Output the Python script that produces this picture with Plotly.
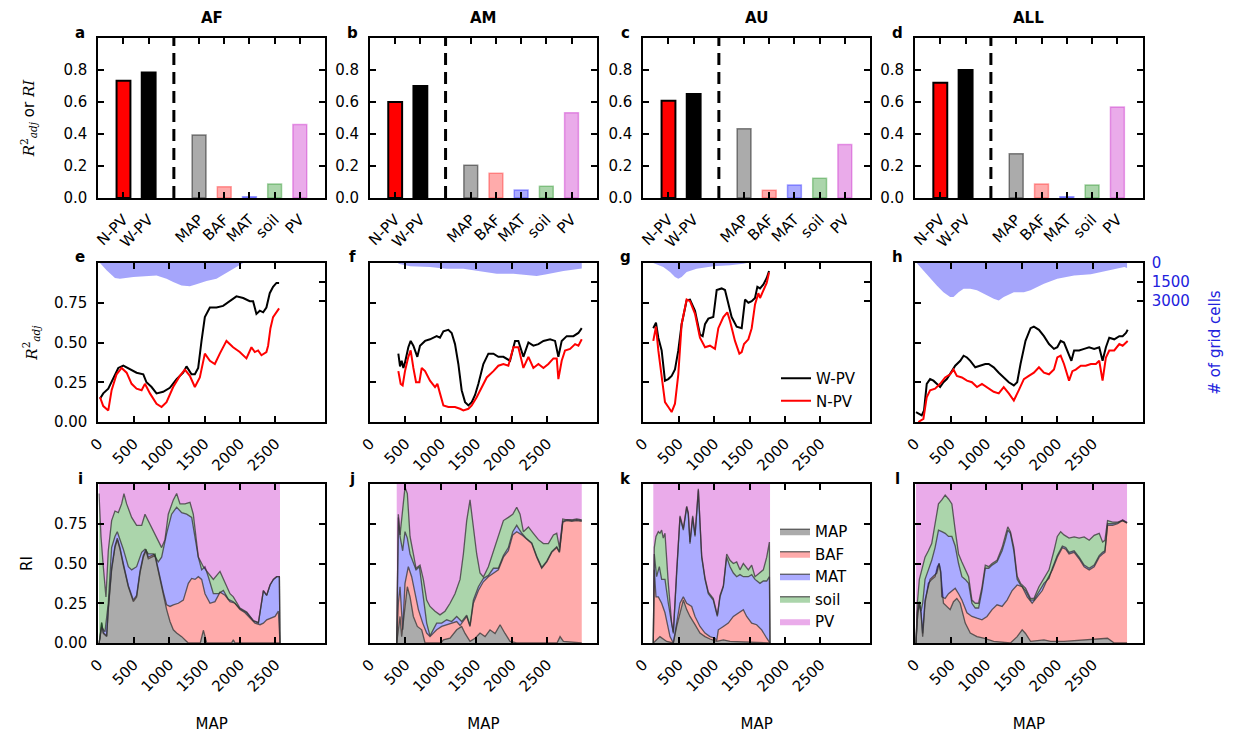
import plotly.graph_objects as go

W, H = 1233, 734
OX, OY = 8, 8          # page body margin of the html page
FONT = "DejaVu Sans"

# ---------------- data ----------------
regions = ["AF", "AM", "AU", "ALL"]
bar_pos = [1, 2, 4, 5, 6, 7, 8]
bar_ticks = ["N-PV", "W-PV", "MAP", "BAF", "MAT", "soil", "PV"]
npv_r2 = [0.733, 0.60, 0.608, 0.72]
wpv_r2 = [0.785, 0.70, 0.65, 0.80]
ri_map_bar = [0.394, 0.204, 0.433, 0.277]
ri_baf_bar = [0.071, 0.154, 0.048, 0.0875]
ri_mat_bar = [0.008, 0.05, 0.081, 0.008]
ri_soil_bar = [0.0875, 0.073, 0.123, 0.081]
ri_pv_bar = [0.46, 0.533, 0.335, 0.569]

map_ticks = [0, 500, 1000, 1500, 2000, 2500]
cell_ticks = [0, 1500, 3000]

# moving-window R2 (MAP, value)
wpv_af = [(24,0.146),(70,0.18),(141,0.21),(212,0.28),(282,0.34),(353,0.354),(447,0.33),(540,0.31),(635,0.30),(680,0.25),(752,0.22),(822,0.18),(916,0.19),(1010,0.215),(1105,0.27),(1198,0.31),(1245,0.35),(1316,0.30),(1363,0.30),(1410,0.34),(1457,0.51),(1504,0.66),(1575,0.72),(1668,0.72),(1762,0.73),(1856,0.76),(1950,0.79),(2045,0.78),(2138,0.76),(2185,0.76),(2232,0.68),(2280,0.70),(2327,0.69),(2373,0.72),(2420,0.81),(2467,0.85),(2515,0.875),(2552,0.875)]
npv_af = [(24,0.156),(70,0.10),(141,0.073),(188,0.20),(258,0.30),(329,0.34),(400,0.31),(470,0.24),(540,0.21),(611,0.20),(658,0.24),(729,0.18),(822,0.115),(893,0.094),(963,0.125),(1057,0.22),(1151,0.29),(1222,0.33),(1292,0.29),(1363,0.22),(1433,0.28),(1504,0.43),(1575,0.385),(1645,0.365),(1715,0.43),(1809,0.51),(1903,0.47),(1997,0.44),(2091,0.40),(2162,0.47),(2209,0.44),(2256,0.45),(2303,0.42),(2373,0.44),(2397,0.48),(2430,0.59),(2467,0.66),(2515,0.69),(2552,0.715)]
wpv_am = [(400,0.43),(424,0.35),(447,0.385),(471,0.34),(494,0.375),(541,0.47),(574,0.51),(612,0.48),(668,0.41),(706,0.48),(777,0.51),(847,0.52),(941,0.54),(988,0.53),(1036,0.57),(1106,0.58),(1153,0.56),(1200,0.49),(1247,0.365),(1294,0.20),(1342,0.125),(1389,0.104),(1436,0.125),(1483,0.17),(1530,0.24),(1600,0.365),(1671,0.43),(1742,0.43),(1812,0.41),(1883,0.41),(1977,0.385),(2047,0.51),(2094,0.51),(2165,0.41),(2236,0.50),(2306,0.48),(2377,0.49),(2448,0.51),(2542,0.52),(2612,0.51),(2659,0.41),(2706,0.51),(2777,0.54),(2871,0.54),(2942,0.56),(2989,0.59)]
npv_am = [(400,0.32),(433,0.24),(461,0.23),(494,0.32),(541,0.41),(574,0.45),(612,0.34),(650,0.25),(697,0.25),(730,0.34),(777,0.32),(847,0.26),(918,0.22),(951,0.24),(988,0.18),(1036,0.104),(1106,0.094),(1200,0.094),(1271,0.083),(1318,0.073),(1389,0.083),(1436,0.104),(1506,0.156),(1577,0.22),(1648,0.28),(1742,0.32),(1812,0.354),(1883,0.365),(1953,0.354),(2024,0.47),(2094,0.47),(2165,0.34),(2236,0.41),(2306,0.34),(2377,0.365),(2448,0.34),(2518,0.365),(2589,0.40),(2636,0.40),(2659,0.27),(2706,0.385),(2753,0.45),(2824,0.46),(2895,0.49),(2942,0.48),(2989,0.52)]
wpv_au = [(141,0.59),(179,0.625),(212,0.53),(259,0.45),(306,0.26),(353,0.27),(400,0.29),(447,0.33),(494,0.45),(541,0.615),(612,0.765),(659,0.77),(730,0.70),(800,0.55),(838,0.54),(871,0.615),(918,0.65),(988,0.66),(1036,0.83),(1106,0.84),(1153,0.83),(1200,0.74),(1247,0.66),(1318,0.60),(1389,0.59),(1436,0.77),(1483,0.75),(1530,0.76),(1577,0.78),(1610,0.85),(1648,0.84),(1695,0.865),(1742,0.906),(1775,0.95)]
npv_au = [(141,0.51),(179,0.60),(212,0.45),(259,0.28),(306,0.125),(353,0.094),(400,0.0625),(447,0.115),(494,0.30),(541,0.615),(612,0.77),(659,0.76),(730,0.68),(800,0.53),(871,0.47),(941,0.48),(1012,0.46),(1059,0.59),(1130,0.66),(1186,0.69),(1224,0.635),(1294,0.51),(1356,0.43),(1389,0.44),(1422,0.49),(1483,0.52),(1530,0.59),(1577,0.74),(1624,0.81),(1648,0.78),(1695,0.83),(1742,0.875),(1775,0.94)]
wpv_all = [(14,0.0625),(47,0.052),(94,0.042),(127,0.073),(165,0.24),(212,0.27),(259,0.26),(306,0.24),(353,0.22),(400,0.25),(447,0.27),(518,0.32),(565,0.354),(636,0.385),(683,0.417),(730,0.406),(777,0.385),(847,0.344),(918,0.354),(988,0.365),(1036,0.365),(1106,0.344),(1177,0.31),(1247,0.28),(1318,0.25),(1389,0.23),(1436,0.25),(1483,0.365),(1553,0.51),(1624,0.59),(1671,0.60),(1742,0.58),(1812,0.54),(1883,0.49),(1953,0.46),(2000,0.47),(2047,0.51),(2094,0.50),(2141,0.45),(2198,0.385),(2236,0.45),(2306,0.45),(2377,0.46),(2447,0.47),(2518,0.46),(2589,0.47),(2636,0.385),(2683,0.47),(2730,0.53),(2800,0.52),(2871,0.54),(2918,0.54),(2965,0.56),(2989,0.58)]
npv_all = [(47,0.0),(118,0.02),(165,0.156),(212,0.20),(282,0.21),(353,0.24),(424,0.28),(494,0.30),(541,0.33),(588,0.29),(659,0.28),(730,0.26),(800,0.25),(871,0.22),(941,0.24),(1012,0.22),(1106,0.19),(1177,0.18),(1247,0.22),(1318,0.18),(1389,0.135),(1459,0.20),(1530,0.27),(1600,0.29),(1671,0.31),(1742,0.344),(1812,0.31),(1883,0.30),(1953,0.33),(2000,0.406),(2047,0.417),(2094,0.365),(2165,0.26),(2212,0.32),(2259,0.33),(2330,0.354),(2400,0.354),(2471,0.365),(2542,0.365),(2589,0.385),(2636,0.26),(2683,0.406),(2730,0.45),(2800,0.45),(2871,0.49),(2918,0.48),(2965,0.50),(2989,0.51)]

# number of grid cells per window (MAP, count)
cells_af = [(24,0),(117,570),(235,1180),(305,1230),(494,1100),(680,1045),(822,975),(963,1230),(1057,1500),(1175,1760),(1292,1835),(1386,1680),(1527,1415),(1668,1230),(1786,840),(1903,445),(2000,100),(2045,0),(2552,0)]
cells_am = [(400,50),(518,180),(565,250),(847,320),(1083,445),(1318,445),(1553,630),(1789,840),(2024,840),(2259,975),(2353,1025),(2494,890),(2730,630),(2965,445),(2989,440)]
cells_au = [(141,0),(282,320),(377,710),(447,1100),(494,1230),(541,1100),(612,710),(753,445),(988,260),(1224,185),(1412,50),(1459,0),(1775,0)]
cells_all = [(24,0),(118,575),(212,1230),(306,1760),(400,2290),(494,2680),(541,2680),(612,2290),(683,2020),(777,2020),(871,2150),(965,2415),(1106,2810),(1177,2940),(1247,2680),(1389,2290),(1530,2290),(1624,2150),(1812,1630),(2000,1230),(2236,975),(2471,890),(2612,710),(2800,445),(2942,320),(2980,400)]

# relative importance, cumulative upper boundary of each stacked layer (MAP, RI)
ri_af_map = [(10,0),(24,0.03),(47,0.125),(71,0.06),(118,0.04),(141,0.21),(188,0.46),(235,0.60),(268,0.65),(306,0.59),(353,0.49),(424,0.354),(494,0.26),(541,0.29),(588,0.44),(635,0.54),(673,0.58),(706,0.53),(753,0.54),(800,0.55),(833,0.48),(871,0.40),(918,0.31),(965,0.21),(1012,0.135),(1059,0.083),(1106,0.0625),(1177,0.04),(1247,0.01),(1271,0),(1440,0),(1483,0.08),(1530,0.0),(1880,0),(1906,0.02),(1930,0),(2565,0)]
ri_af_baf = [(10,0.0),(24,0.035),(47,0.13),(71,0.065),(118,0.045),(141,0.22),(188,0.47),(235,0.61),(268,0.66),(306,0.60),(353,0.50),(424,0.36),(494,0.27),(541,0.30),(588,0.45),(635,0.55),(673,0.59),(706,0.54),(753,0.55),(800,0.56),(833,0.49),(871,0.41),(918,0.32),(965,0.24),(1012,0.23),(1059,0.24),(1130,0.25),(1200,0.27),(1271,0.375),(1318,0.406),(1365,0.40),(1412,0.417),(1459,0.40),(1506,0.31),(1577,0.25),(1647,0.26),(1718,0.32),(1789,0.30),(1859,0.26),(1930,0.25),(2000,0.21),(2071,0.19),(2142,0.156),(2212,0.125),(2283,0.115),(2330,0.125),(2377,0.146),(2448,0.156),(2495,0.167),(2542,0.20),(2565,0)]
ri_af_mat = [(10,0.0),(24,0.04),(47,0.10),(94,0.07),(141,0.25),(188,0.60),(235,0.67),(268,0.70),(306,0.65),(353,0.59),(424,0.48),(471,0.46),(541,0.48),(612,0.57),(659,0.59),(706,0.56),(777,0.56),(847,0.51),(894,0.54),(965,0.69),(1035,0.81),(1106,0.854),(1177,0.82),(1247,0.81),(1318,0.79),(1365,0.65),(1412,0.54),(1459,0.46),(1506,0.48),(1553,0.417),(1624,0.31),(1694,0.31),(1765,0.33),(1836,0.275),(1906,0.26),(2000,0.215),(2095,0.19),(2189,0.14),(2260,0.125),(2330,0.33),(2377,0.30),(2424,0.365),(2471,0.40),(2518,0.417),(2556,0.417),(2565,0)]
ri_af_soil = [(10,0.94),(38,0.67),(71,0.48),(108,0.29),(141,0.58),(188,0.77),(235,0.83),(282,0.82),(329,0.875),(362,0.94),(400,0.875),(471,0.79),(541,0.74),(612,0.74),(659,0.81),(706,0.77),(777,0.70),(847,0.65),(894,0.60),(941,0.65),(988,0.81),(1059,0.90),(1106,0.94),(1153,0.875),(1224,0.875),(1294,0.885),(1341,0.81),(1412,0.54),(1483,0.48),(1553,0.44),(1624,0.40),(1718,0.45),(1789,0.375),(1859,0.31),(1906,0.29),(2000,0.22),(2095,0.195),(2189,0.14),(2260,0.13),(2330,0.33),(2377,0.30),(2424,0.365),(2471,0.40),(2518,0.417),(2556,0.417),(2565,0)]

ri_am_map = [(377,0),(424,0.167),(447,0.04),(494,0.21),(527,0.354),(565,0.29),(612,0.167),(668,0.104),(730,0.083),(777,0),(1000,0),(1036,0.02),(1130,0.03),(1224,0.083),(1294,0.104),(1342,0.06),(1412,0.01),(1483,0.03),(1553,0.0625),(1624,0.04),(1694,0.083),(1765,0.06),(1836,0.115),(1906,0.06),(1977,0.01),(2071,0),(2640,0),(2683,0.04),(2730,0.01),(2989,0)]
ri_am_baf = [(377,0),(400,0.25),(424,0.354),(461,0.083),(494,0.375),(541,0.48),(588,0.417),(635,0.31),(683,0.21),(744,0.125),(800,0.0625),(847,0.04),(941,0.083),(1012,0.104),(1083,0.115),(1153,0.125),(1224,0.135),(1271,0.11),(1318,0.135),(1365,0.167),(1412,0.104),(1459,0.25),(1530,0.33),(1600,0.385),(1671,0.417),(1742,0.44),(1812,0.46),(1883,0.54),(1953,0.58),(2015,0.68),(2071,0.70),(2142,0.68),(2212,0.65),(2283,0.625),(2353,0.54),(2424,0.47),(2495,0.51),(2565,0.57),(2636,0.60),(2674,0.57),(2721,0.76),(2777,0.77),(2848,0.765),(2918,0.77),(2989,0.765)]
ri_am_mat = [(377,0),(400,0.79),(424,0.67),(461,0.58),(494,0.70),(527,0.66),(565,0.56),(612,0.50),(650,0.46),(697,0.48),(753,0.27),(800,0.125),(847,0.045),(894,0.083),(941,0.125),(1012,0.125),(1083,0.146),(1153,0.135),(1224,0.167),(1294,0.135),(1365,0.175),(1412,0.11),(1459,0.27),(1530,0.354),(1600,0.406),(1671,0.425),(1742,0.47),(1812,0.47),(1883,0.55),(1953,0.60),(2015,0.70),(2071,0.74),(2142,0.69),(2212,0.655),(2283,0.63),(2353,0.545),(2424,0.475),(2495,0.515),(2565,0.575),(2636,0.605),(2674,0.575),(2721,0.765),(2777,0.775),(2848,0.77),(2918,0.775),(2989,0.77)]
ri_am_soil = [(377,0),(400,0.81),(424,0.68),(461,0.83),(494,0.98),(527,0.94),(565,0.67),(612,0.56),(650,0.47),(706,0.49),(753,0.40),(800,0.27),(847,0.23),(918,0.20),(988,0.177),(1059,0.20),(1130,0.25),(1200,0.31),(1271,0.40),(1318,0.56),(1365,0.77),(1412,0.90),(1450,0.77),(1506,0.56),(1553,0.44),(1600,0.415),(1671,0.48),(1742,0.58),(1812,0.67),(1883,0.77),(1953,0.79),(2015,0.81),(2071,0.854),(2118,0.81),(2165,0.70),(2236,0.73),(2306,0.69),(2377,0.65),(2448,0.625),(2518,0.625),(2589,0.68),(2636,0.69),(2674,0.60),(2721,0.78),(2777,0.775),(2848,0.775),(2918,0.78),(2989,0.775)]

ri_au_map = [(141,0),(188,0.02),(235,0.04),(330,0.01),(424,0),(471,0.104),(518,0.19),(565,0.27),(612,0.21),(659,0.167),(730,0.115),(800,0.0625),(871,0.04),(941,0.025),(1036,0.01),(1130,0.02),(1224,0.01),(1459,0.005),(1647,0),(1789,0)]
ri_au_baf = [(141,0),(155,0.46),(179,0.29),(212,0.29),(259,0.25),(306,0.19),(377,0.04),(424,0.0),(471,0.125),(518,0.25),(565,0.29),(612,0.25),(683,0.23),(730,0.167),(800,0.104),(871,0.0625),(941,0.04),(1012,0.03),(1036,0.015),(1059,0.083),(1130,0.104),(1200,0.125),(1271,0.167),(1341,0.19),(1412,0.21),(1459,0.167),(1530,0.125),(1600,0.115),(1671,0.083),(1742,0.03),(1789,0)]
ri_au_mat = [(141,0),(155,0.56),(188,0.417),(226,0.48),(259,0.40),(306,0.40),(353,0.25),(400,0.104),(424,0.06),(471,0.46),(518,0.79),(565,0.71),(612,0.854),(635,0.81),(659,0.625),(697,0.79),(730,0.67),(777,0.96),(824,0.54),(871,0.40),(918,0.31),(988,0.27),(1045,0.167),(1083,0.29),(1130,0.354),(1177,0.54),(1224,0.48),(1271,0.44),(1318,0.417),(1365,0.43),(1412,0.417),(1483,0.417),(1530,0.43),(1577,0.40),(1647,0.375),(1694,0.39),(1742,0.39),(1780,0.417),(1789,0)]
ri_au_soil = [(141,0),(155,0.60),(179,0.67),(212,0.70),(235,0.69),(259,0.71),(282,0.66),(306,0.69),(353,0.375),(400,0.125),(424,0.07),(471,0.47),(518,0.80),(565,0.72),(612,0.86),(635,0.82),(659,0.635),(697,0.80),(730,0.68),(777,0.97),(824,0.55),(871,0.41),(918,0.32),(988,0.28),(1045,0.175),(1083,0.30),(1130,0.36),(1177,0.56),(1224,0.52),(1271,0.50),(1318,0.51),(1365,0.46),(1412,0.50),(1483,0.46),(1530,0.49),(1577,0.417),(1647,0.44),(1694,0.46),(1742,0.54),(1780,0.635),(1789,0)]

ri_all_map = [(14,0),(33,0.146),(61,0.25),(85,0.19),(108,0.04),(141,0.25),(188,0.375),(235,0.40),(282,0.417),(315,0.48),(339,0.50),(362,0.44),(400,0.25),(447,0.23),(494,0.21),(541,0.26),(588,0.28),(635,0.25),(706,0.125),(777,0.0625),(871,0.04),(965,0.03),(1106,0.01),(1341,0),(1436,0.04),(1506,0.083),(1553,0.06),(1624,0.01),(1812,0.02),(1906,0.01),(2094,0.01),(2706,0.03),(2800,0),(2980,0)]
ri_all_baf = [(14,0),(33,0.19),(61,0.25),(85,0.19),(108,0.06),(141,0.27),(212,0.40),(306,0.44),(339,0.50),(362,0.45),(377,0.29),(424,0.28),(471,0.31),(518,0.33),(565,0.344),(612,0.31),(659,0.27),(730,0.19),(800,0.167),(871,0.156),(941,0.146),(1012,0.167),(1083,0.21),(1153,0.24),(1224,0.23),(1294,0.27),(1365,0.33),(1436,0.365),(1506,0.354),(1577,0.29),(1647,0.25),(1718,0.29),(1789,0.33),(1859,0.40),(1930,0.46),(2000,0.54),(2071,0.60),(2118,0.59),(2165,0.56),(2236,0.57),(2306,0.53),(2377,0.48),(2448,0.46),(2518,0.48),(2589,0.54),(2636,0.56),(2669,0.57),(2706,0.74),(2777,0.74),(2848,0.75),(2918,0.77),(2980,0.754)]
ri_all_mat = [(14,0),(33,0.20),(61,0.26),(85,0.20),(108,0.25),(141,0.40),(188,0.46),(235,0.52),(282,0.60),(330,0.71),(377,0.70),(424,0.69),(471,0.67),(518,0.67),(565,0.61),(612,0.50),(659,0.417),(706,0.40),(753,0.375),(800,0.25),(847,0.22),(894,0.22),(941,0.33),(988,0.47),(1036,0.47),(1083,0.49),(1153,0.51),(1224,0.58),(1271,0.65),(1304,0.71),(1341,0.69),(1389,0.58),(1436,0.40),(1483,0.365),(1553,0.33),(1624,0.27),(1671,0.27),(1742,0.32),(1812,0.375),(1883,0.406),(1930,0.47),(2000,0.55),(2071,0.61),(2118,0.60),(2165,0.57),(2236,0.58),(2306,0.54),(2377,0.49),(2448,0.47),(2518,0.49),(2589,0.55),(2636,0.57),(2669,0.58),(2706,0.75),(2777,0.75),(2848,0.755),(2918,0.775),(2980,0.757)]
ri_all_soil = [(14,0),(33,0.25),(61,0.40),(94,0.46),(141,0.54),(188,0.58),(235,0.625),(282,0.75),(330,0.875),(377,0.90),(424,0.93),(471,0.906),(518,0.875),(565,0.71),(612,0.56),(659,0.51),(706,0.46),(753,0.417),(800,0.27),(847,0.25),(894,0.25),(941,0.35),(988,0.49),(1036,0.48),(1083,0.50),(1153,0.52),(1224,0.60),(1271,0.67),(1304,0.73),(1341,0.70),(1389,0.60),(1436,0.42),(1483,0.375),(1553,0.345),(1624,0.28),(1671,0.28),(1742,0.354),(1812,0.406),(1883,0.46),(1953,0.58),(2000,0.67),(2047,0.70),(2094,0.68),(2165,0.66),(2236,0.667),(2306,0.66),(2377,0.667),(2448,0.646),(2518,0.677),(2589,0.69),(2636,0.635),(2669,0.646),(2706,0.77),(2777,0.76),(2848,0.76),(2918,0.77),(2980,0.757)]

wpv_series = [wpv_af, wpv_am, wpv_au, wpv_all]
npv_series = [npv_af, npv_am, npv_au, npv_all]
cells_series = [cells_af, cells_am, cells_au, cells_all]
ri_layers = [
    [ri_af_map, ri_af_baf, ri_af_mat, ri_af_soil],
    [ri_am_map, ri_am_baf, ri_am_mat, ri_am_soil],
    [ri_au_map, ri_au_baf, ri_au_mat, ri_au_soil],
    [ri_all_map, ri_all_baf, ri_all_mat, ri_all_soil],
]
layer_names = ["MAP", "BAF", "MAT", "soil", "PV"]

# ---------------- style ----------------
layer_fill = ["rgba(0,0,0,0.33)", "rgba(255,0,0,0.33)", "rgba(0,0,255,0.33)",
              "rgba(0,128,0,0.33)", "rgba(191,0,191,0.33)"]
layer_edge = ["rgba(0,0,0,0.45)", "rgba(255,0,0,0.35)", "rgba(0,0,255,0.35)",
              "rgba(0,128,0,0.35)", "rgba(191,0,191,0.35)"]
stack_line = "rgba(50,50,50,0.75)"

# panel boxes in screen pixels of the reference
col_px = [(98.3, 325.0), (370.0, 596.7), (643.3, 870.0), (915.0, 1142.7)]
row_px = [(38, 198), (263, 422), (484, 643)]


def px(X):
    return (X - OX) / W


def py(Y):
    return 1 - (Y - OY) / H


def xd(c):
    return [px(col_px[c][0]), px(col_px[c][1])]


def yd(r):
    return [py(row_px[r][1]), py(row_px[r][0])]


def ax_name(i, kind):
    return kind + ("axis" if i == 1 else "axis%d" % i)


def ref(i, kind):
    return kind + ("" if i == 1 else str(i))


tickfont = dict(family=FONT, size=15, color="black")
base_axis = dict(showline=True, linewidth=2, linecolor="black", ticks="inside",
                 ticklen=6, tickwidth=1.5, tickcolor="black", showgrid=False,
                 zeroline=False, tickfont=tickfont, automargin=False)

fig = go.Figure()
layout = {}
ytitle_standoff = [25, 13, 18]

for r in range(3):
    for c in range(4):
        i = r * 4 + c + 1
        xa = dict(base_axis, domain=xd(c), anchor=ref(i, "y"), mirror="ticks", ticklabelstandoff=5)
        ya = dict(base_axis, domain=yd(r), anchor=ref(i, "x"), ticklabelstandoff=6)
        if r == 0:
            xa.update(range=[0, 9], tickvals=bar_pos, ticktext=bar_ticks, tickangle=-45,
                      minor=dict(tickvals=[3], ticks="inside", ticklen=6, tickwidth=1.5,
                                 tickcolor="black", showgrid=False))
            ya.update(range=[0, 1], tickvals=[0, 0.2, 0.4, 0.6, 0.8], tickformat=".1f", mirror="ticks")
        else:
            xa.update(range=[0, 3200], tickvals=map_ticks, tickangle=-45)
            ya.update(range=[0, 1], tickvals=[0, 0.25, 0.5, 0.75], tickformat=".2f",
                      showticklabels=(c == 0), mirror=(True if r == 1 else "ticks"))
        if r == 2:
            xa["title"] = dict(text="MAP", font=dict(family=FONT, size=15, color="black"), standoff=24)
        if c == 0:
            if r == 0:
                t = ('<span style="font-family:DejaVu Serif"><i>R</i><sup>2</sup><sub><i>adj</i></sub></span>'
                     ' or <span style="font-family:DejaVu Serif"><i>RI</i></span>')
            elif r == 1:
                t = '<span style="font-family:DejaVu Serif"><i>R</i><sup>2</sup><sub><i>adj</i></sub></span>'
            else:
                t = "RI"
            ya["title"] = dict(text=t, font=dict(family=FONT, size=15, color="black"),
                               standoff=ytitle_standoff[r])
        layout[ax_name(i, "x")] = xa
        layout[ax_name(i, "y")] = ya

# secondary axes (grid cell counts) for the middle row
for c in range(4):
    i = 13 + c
    ya = dict(base_axis, domain=yd(1), anchor=ref(5 + c, "x"), overlaying=ref(5 + c, "y"),
              side="right", showline=False, range=[12500, 0], tickvals=cell_ticks,
              ticklabelstandoff=8, showticklabels=(c == 3),
              tickfont=dict(family=FONT, size=15, color="#2222dd"))
    if c == 3:
        ya["title"] = dict(text="# of grid cells", font=dict(family=FONT, size=15, color="#2222dd"), standoff=20)
    layout[ax_name(i, "y")] = ya

# ---- top row: bars ----
for c in range(4):
    i = c + 1
    xr, yr = ref(i, "x"), ref(i, "y")
    fig.add_trace(go.Bar(x=[1, 2], y=[npv_r2[c], wpv_r2[c]], width=0.55,
                         marker=dict(color=["red", "black"], line=dict(color="black", width=2)),
                         xaxis=xr, yaxis=yr, showlegend=False, hoverinfo="skip"))
    fig.add_trace(go.Bar(x=[4, 5, 6, 7, 8],
                         y=[ri_map_bar[c], ri_baf_bar[c], ri_mat_bar[c], ri_soil_bar[c], ri_pv_bar[c]],
                         width=0.55, marker=dict(color=layer_fill, line=dict(color=layer_edge, width=1.5)),
                         xaxis=xr, yaxis=yr, showlegend=False, hoverinfo="skip"))
    fig.add_trace(go.Scatter(x=[3, 3], y=[0, 1], mode="lines",
                             line=dict(color="black", width=3, dash="12px,7px"),
                             xaxis=xr, yaxis=yr, showlegend=False, hoverinfo="skip"))

# ---- middle row: moving-window R2 + grid cell counts ----
for c in range(4):
    i = 5 + c
    xr, yr = ref(i, "x"), ref(i, "y")
    cx = [p[0] for p in cells_series[c]]
    cy = [p[1] for p in cells_series[c]]
    fig.add_trace(go.Scatter(x=cx, y=cy, mode="lines", line=dict(width=0, color="rgba(0,0,255,0)"),
                             fill="tozeroy", fillcolor="rgba(40,40,245,0.42)",
                             xaxis=xr, yaxis=ref(13 + c, "y"), showlegend=False, hoverinfo="skip"))
    for series, name, col in [(wpv_series[c], "W-PV", "black"), (npv_series[c], "N-PV", "red")]:
        fig.add_trace(go.Scatter(x=[p[0] for p in series], y=[p[1] for p in series], mode="lines",
                                 line=dict(color=col, width=2), name=name,
                                 xaxis=xr, yaxis=yr, showlegend=(c == 2), legend="legend",
                                 hoverinfo="skip"))

# ---- bottom row: stacked relative importance ----
for c in range(4):
    i = 9 + c
    xr, yr = ref(i, "x"), ref(i, "y")
    layers = ri_layers[c]
    x0 = layers[0][0][0]
    x1 = layers[0][-1][0]
    for k, lay in enumerate(layers):
        fig.add_trace(go.Scatter(x=[p[0] for p in lay], y=[p[1] for p in lay], mode="lines",
                                 line=dict(color=stack_line, width=1.3),
                                 fill="tozeroy" if k == 0 else "tonexty", fillcolor=layer_fill[k],
                                 name=layer_names[k], xaxis=xr, yaxis=yr,
                                 showlegend=(c == 2), legend="legend2", hoverinfo="skip"))
    fig.add_trace(go.Scatter(x=[x0, x1], y=[1, 1], mode="lines",
                             line=dict(color="rgba(0,0,0,0)", width=0),
                             fill="tonexty", fillcolor=layer_fill[4], name=layer_names[4],
                             xaxis=xr, yaxis=yr, showlegend=(c == 2), legend="legend2",
                             hoverinfo="skip"))

# ---- annotations: titles and panel letters ----
ann = []
for c in range(4):
    cxm = px((col_px[c][0] + col_px[c][1]) / 2)
    ann.append(dict(text="<b>%s</b>" % regions[c], x=cxm, y=py(18), xref="paper", yref="paper",
                    xanchor="center", yanchor="middle", showarrow=False,
                    font=dict(family=FONT, size=15, color="black")))
letters = "abcdefghijkl"
letter_y = [33, 257, 479]
for r in range(3):
    for c in range(4):
        ann.append(dict(text="<b>%s</b>" % letters[r * 4 + c], x=px(col_px[c][0] - 18),
                        y=py(letter_y[r]), xref="paper", yref="paper", showarrow=False,
                        xanchor="center", yanchor="middle",
                        font=dict(family=FONT, size=15, color="black")))

layout.update(
    template="none",
    width=W, height=H, margin=dict(l=0, r=0, t=0, b=0, autoexpand=False),
    paper_bgcolor="white", plot_bgcolor="white", barmode="overlay",
    font=dict(family=FONT, size=15, color="black"),
    annotations=ann,
    legend=dict(x=px(776), y=py(362), xanchor="left", yanchor="top", traceorder="normal",
                bgcolor="rgba(0,0,0,0)", font=dict(family=FONT, size=15), tracegroupgap=0),
    legend2=dict(x=px(775), y=py(515), xanchor="left", yanchor="top", traceorder="normal",
                 bgcolor="rgba(0,0,0,0)", font=dict(family=FONT, size=15), tracegroupgap=0),
)
fig.update_layout(layout)
fig.write_html("out.html")
